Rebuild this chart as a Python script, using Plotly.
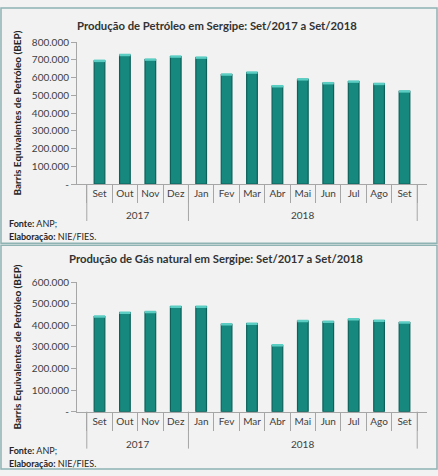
import plotly.graph_objects as go

meses = ["Set", "Out", "Nov", "Dez", "Jan", "Fev", "Mar", "Abr", "Mai", "Jun", "Jul", "Ago", "Set"]
anos = ["2017"] * 4 + ["2018"] * 9

petroleo = [694000, 727000, 701000, 718000, 712000, 617000, 628000, 551000, 590000, 568000, 577000, 564000, 522000]
gas = [441000, 459000, 462000, 487000, 487000, 405000, 408000, 308000, 420000, 417000, 428000, 422000, 413000]

ticks_pet = [0, 100000, 200000, 300000, 400000, 500000, 600000, 700000, 800000]
ticks_gas = [0, 100000, 200000, 300000, 400000, 500000, 600000]

def fmt(v):
    if v == 0:
        return "-"
    return "{:,}".format(v).replace(",", ".")

cats = [m + "/" + a for m, a in zip(meses, anos)]

W, H = 438, 476
FONT = "Lato"
BAR = "#16887e"
EDGE = "#0c615b"
CAP = "#5ccdc3"
AXIS = "#a6a6a6"

def px_y(p):
    return 1 - p / H

fig = go.Figure()
for vals, xa, ya in [(petroleo, "x", "y"), (gas, "x2", "y2")]:
    fig.add_trace(go.Bar(x=cats, y=vals, marker=dict(color=BAR, line=dict(color=EDGE, width=1.2)),
                         xaxis=xa, yaxis=ya, showlegend=False, hoverinfo="y"))
    # light top cap of the bars
    fig.add_trace(go.Scatter(x=cats, y=vals, mode="markers", xaxis=xa, yaxis=ya,
                             marker=dict(symbol="line-ew-open", size=8, color=CAP,
                                         line=dict(color=CAP, width=2.5)),
                             showlegend=False, hoverinfo="skip"))

def xax(anchor):
    return dict(domain=[77 / W, 427 / W], anchor=anchor, type="category",
                tickvals=cats, ticktext=meses, tickangle=0,
                showline=True, linecolor=AXIS, linewidth=1,
                tickson="boundaries", ticks="outside", ticklen=18, tickcolor=AXIS,
                tickfont=dict(size=10, color="#404040", family=FONT),
                showgrid=False, fixedrange=True)

def yax(anchor, top, bottom, rmax, tv):
    return dict(domain=[px_y(bottom), px_y(top)], anchor=anchor, range=[0, rmax],
                tickvals=tv, ticktext=[fmt(v) for v in tv],
                showline=True, linecolor=AXIS, linewidth=1,
                ticks="outside", ticklen=5, tickcolor=AXIS,
                showgrid=False, zeroline=False, fixedrange=True,
                tickfont=dict(size=10, color="#404040", family=FONT),
                title=dict(text="<b>Barris Equivalentes de Petróleo (BEP)</b>",
                           font=dict(size=10, color="#262626", family=FONT), standoff=8))

fig.update_layout(
    width=W, height=H,
    margin=dict(l=0, r=0, t=0, b=0),
    paper_bgcolor="#f2f2f2", plot_bgcolor="#f2f2f2",
    bargap=0.58,
    font=dict(family=FONT, color="#404040"),
    xaxis=xax("y"),
    yaxis=yax("x", 36, 182, 800000, ticks_pet),
    xaxis2=xax("y2"),
    yaxis2=yax("x2", 283, 416, 600000, ticks_gas),
)

# year groups: dividers and labels below month labels
grupos = []
for i, a in enumerate(anos):
    if not grupos or grupos[-1][0] != a:
        grupos.append([a, i, i])
    else:
        grupos[-1][2] = i

for xref, base, ylab in [("x", 182, 214), ("x2", 416, 449)]:
    bounds = [grupos[0][1] - 0.5] + [g[2] + 0.5 for g in grupos]
    for b in bounds:
        fig.add_shape(type="line", xref=xref, yref="paper", x0=b, x1=b,
                      y0=px_y(base), y1=px_y(base + 38), line=dict(color=AXIS, width=1))
    for a, i0, i1 in grupos:
        fig.add_annotation(text=a, x=(i0 + i1) / 2, y=px_y(ylab), xref=xref, yref="paper",
                           showarrow=False, yanchor="middle",
                           font=dict(size=10, family=FONT, color="#404040"))

annots = [
    ("<b>Produção de Petróleo em Sergipe: Set/2017 a Set/2018</b>", 217 / W, 19, 11.3, "center", "#333333"),
    ("<b>Fonte:</b> ANP;", 7 / W, 223, 9, "left", "#262626"),
    ("<b>Elaboração:</b> NIE/FIES.", 7 / W, 236, 9, "left", "#262626"),
    ("<b>Produção de Gás natural em Sergipe: Set/2017 a Set/2018</b>", 216 / W, 259, 11.3, "center", "#333333"),
    ("<b>Fonte:</b> ANP;", 7 / W, 456, 9, "left", "#262626"),
    ("<b>Elaboração:</b> NIE/FIES.", 7 / W, 469, 9, "left", "#262626"),
]
for text, x, y, size, align, color in annots:
    fig.add_annotation(text=text, x=x, y=px_y(y), xref="paper", yref="paper",
                       xanchor=align, yanchor="middle", showarrow=False,
                       font=dict(size=size, family=FONT, color=color))

# panel borders
for y0, y1 in [(1, 243), (245, 475)]:
    fig.add_shape(type="rect", xref="paper", yref="paper",
                  x0=1 / W, x1=1 - 1 / W, y0=px_y(y1), y1=px_y(y0),
                  line=dict(color="#8fb3b3", width=1.5), layer="below")

fig.write_html("out.html", config={"displayModeBar": False},
               post_script="document.body.style.margin='0px';")
